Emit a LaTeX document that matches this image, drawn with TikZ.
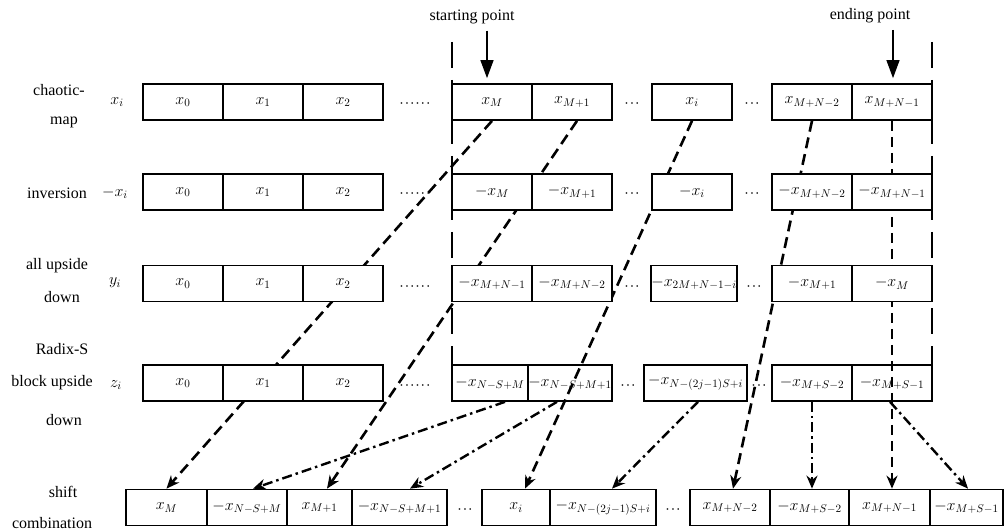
\RequirePackage{fix-cm}
\documentclass[tikz,border=0pt]{standalone}
\usepackage{fontspec}
\setmainfont{Liberation Serif}
\usetikzlibrary{arrows.meta,calc}
\pgfdeclarelayer{bg}
\pgfsetlayers{bg,main}
\newcommand\cellat[6][]{\node[cell,#1,minimum width={(#4)-(#3)}] (#2) at ({((#3)+(#4))/2},#5) {#6};}
\newcommand\dd{\mathord{\cdot}\mkern1mu}
\newcommand\sixdots{$\dd\dd\dd\dd\dd\mathord{\cdot}$}
\newcommand\threedots{$\dd\dd\mathord{\cdot}$}
\begin{document}
\begin{tikzpicture}[x=1pt,y=-1pt,
  every node/.style={font=\fontsize{16}{19}\selectfont},
  cell/.style={draw, line width=1.7pt, fill=white, minimum height=36pt, inner sep=0pt},
  dotsnode/.style={anchor=base, inner sep=0pt},
  dl/.style={line width=2.6pt, dash pattern=on 11pt off 6pt},
  dlthin/.style={line width=2pt, dash pattern=on 10pt off 6pt},
  ddl/.style={line width=2.4pt, dash pattern=on 10pt off 4pt on 2.5pt off 4pt},
  tip/.style={-{Stealth[length=13pt,width=11pt]}},
  bound/.style={line width=2.8pt, dash pattern=on 26pt off 12pt},
  ptr/.style={line width=1.2pt, -{Triangle[length=18pt,width=13pt]}}]
\useasboundingbox (0,0) rectangle (1005,532);

% ---- labels ----
\node (sp) at (472,17) {starting point};
\node (ep) at (870,16) {ending point};
\node (l1a) at (59,90) {chaotic-};
\node (l1b) at (64,122) {map};
\node (v1) at (117,102) {$x_i$};
\node (l2) at (57,193) {inversion};
\node (v2) at (115,193) {$-x_i$};
\node (l3a) at (57,266) {all upside};
\node (l3b) at (62,297) {down};
\node (v3) at (115,283) {$y_i$};
\node (l4a) at (62,349) {Radix-S};
\node (l4b) at (52,383) {block upside};
\node (l4c) at (64,420) {down};
\node (v4) at (116,385) {$z_i$};
\node (l5a) at (63,492) {shift};
\node (l5b) at (52,523) {combination};

% ---- row 1 ----
\cellat{a0}{143}{223}{102}{$x_0$}
\cellat{a1}{223}{303}{102}{$x_1$}
\cellat{a2}{303}{383}{102}{$x_2$}
\node[dotsnode] (a2d) at (415,108) {\sixdots};
\cellat{a3}{452}{532}{102}{$x_M$}
\cellat{a4}{532}{612}{102}{$x_{M+1}$}
\node[dotsnode] (a4d) at (632,108) {\threedots};
\cellat{a5}{652}{732}{102}{$x_i$}
\node[dotsnode] (a5d) at (752,108) {\threedots};
\cellat{a6}{772}{852}{102}{$x_{M+N-2}$}
\cellat{a7}{852}{932}{102}{$x_{M+N-1}$}

% ---- row 2 ----
\cellat{b0}{143}{223}{192}{$x_0$}
\cellat{b1}{223}{303}{192}{$x_1$}
\cellat{b2}{303}{383}{192}{$x_2$}
\node[dotsnode] (b2d) at (415,198) {\sixdots};
\cellat{b3}{452}{532}{192}{$-x_M$}
\cellat{b4}{532}{612}{192}{$-x_{M+1}$}
\node[dotsnode] (b4d) at (632,198) {\threedots};
\cellat{b5}{652}{732}{192}{$-x_i$}
\node[dotsnode] (b5d) at (752,198) {\threedots};
\cellat{b6}{772}{852}{192}{$-x_{M+N-2}$}
\cellat{b7}{852}{932}{192}{$-x_{M+N-1}$}

% ---- row 3 ----
\cellat{c0}{143}{223}{283.5}{$x_0$}
\cellat{c1}{223}{303}{283.5}{$x_1$}
\cellat{c2}{303}{383}{283.5}{$x_2$}
\node[dotsnode] (c2d) at (415,290) {\sixdots};
\cellat{c3}{452}{532}{283.5}{$-x_{M+N-1}$}
\cellat{c4}{532}{612}{283.5}{$-x_{M+N-2}$}
\node[dotsnode] (c4d) at (632,290) {\threedots};
\cellat{c5}{652}{736}{283.5}{$-x_{2M+N-1-i}$}
\node[dotsnode] (c5d) at (754,290) {\threedots};
\cellat{c6}{772}{852}{283.5}{$-x_{M+1}$}
\cellat{c7}{852}{932}{283.5}{$-x_M$}

% ---- row 4 ----
\cellat{d0}{143}{223}{383}{$x_0$}
\cellat{d1}{223}{303}{383}{$x_1$}
\cellat{d2}{303}{383}{383}{$x_2$}
\node[dotsnode] (d2d) at (415,389) {\sixdots};
\cellat[fill=none]{d3}{452}{528}{383}{$-x_{N-S+M}$}
\cellat[fill=none]{d4}{528}{612}{383}{$-x_{N-S+M+1}$}
\node[dotsnode] (d4d) at (628,389) {\threedots};
\cellat[fill=none]{d5}{644}{747}{383}{$-x_{N-(2j-1)S+i}$}
\node[dotsnode] (d5d) at (759,389) {\threedots};
\cellat[fill=none]{d6}{772}{852}{383}{$-x_{M+S-2}$}
\cellat[fill=none]{d7}{852}{932}{383}{$-x_{M+S-1}$}

% ---- row 5 ----
\cellat{e0}{126}{207}{507.5}{$x_M$}
\cellat{e1}{207}{287}{507.5}{$-x_{N-S+M}$}
\cellat{e2}{287}{352}{507.5}{$x_{M+1}$}
\cellat{e3}{352}{447}{507.5}{$-x_{N-S+M+1}$}
\node[dotsnode] (e3d) at (465,513) {\threedots};
\cellat{e4}{482}{550}{507.5}{$x_i$}
\cellat{e5}{550}{656}{507.5}{$-x_{N-(2j-1)S+i}$}
\node[dotsnode] (e5d) at (673,513) {\threedots};
\cellat{e8}{690}{770}{507.5}{$x_{M+N-2}$}
\cellat{e9}{770}{849}{507.5}{$-x_{M+S-2}$}
\cellat{e10}{849}{930}{507.5}{$x_{M+N-1}$}
\cellat{e11}{930}{1003}{507.5}{$-x_{M+S-1}$}

% ---- start / end pointers ----
\draw[ptr] ([xshift=15pt,yshift=-3pt]sp.south) -- ([xshift=-5pt,yshift=5pt]a3.north);
\draw[ptr] ([xshift=23pt,yshift=-3pt]ep.south) -- ([xshift=1pt,yshift=5pt]a7.north);

% ---- boundary lines ----
\coordinate (bl) at (452,42);
\coordinate (br) at (932,42);
\draw[bound] (bl) -- (bl |- d3.south);
\draw[bound] (br) -- (br |- d7.south);

% ---- connectors (behind the boxes) ----
\begin{pgfonlayer}{bg}
\draw[dl,tip] (a3.south) -- (e0.north);
\draw[dl,tip] ([xshift=5pt]a4.south) -- ([xshift=7.5pt]e2.north);
\draw[dl,tip] (a5.south) -- ([xshift=9pt]e4.north);
\draw[dl,tip] (a6.south) -- ([xshift=3pt]e8.north);
\draw[dlthin,tip] (a7.south) -- (a7.south |- e10.north);
\draw[ddl,tip] ([xshift=15pt]d3.south) -- ([xshift=6pt]e1.north);
\draw[ddl,tip] ([xshift=-13pt]d4.south) -- ([xshift=10.5pt]e3.north);
\draw[ddl,tip] ([xshift=2.5pt]d5.south) -- ([xshift=9pt]e5.north);
\draw[ddl,tip] (d6.south) -- (d6.south |- e9.north);
\draw[ddl,tip] ([xshift=-2pt]d7.south) -- ([xshift=1.5pt]e11.north);
\end{pgfonlayer}
\end{tikzpicture}
\end{document}
